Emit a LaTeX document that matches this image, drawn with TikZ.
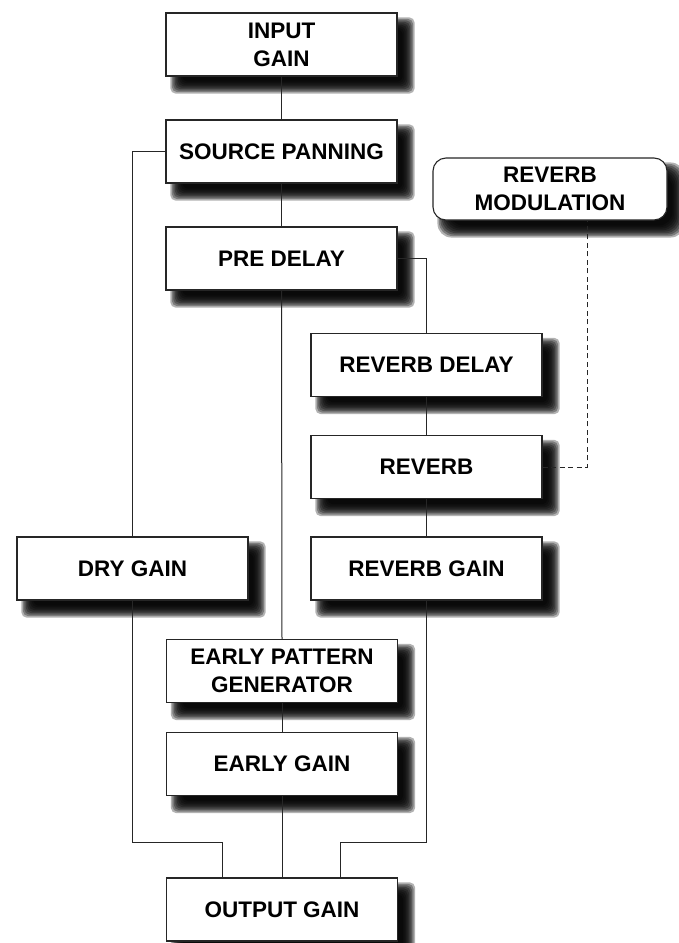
\documentclass[tikz,border=0pt]{standalone}
\usepackage{fontspec}
\setmainfont{Liberation Sans}
\usetikzlibrary{calc}
\pgfdeclarelayer{shadowlayer}
\pgfsetlayers{shadowlayer,main}
\newcommand\dropshadow[2][5pt]{%
  \begin{pgfonlayer}{shadowlayer}
  \foreach \e in {-6,-4.5,-3,-1.5,0,1.5,3,4.5,6}{%
    \fill[black, opacity=0.3, rounded corners=#1]
      ($(#2.north west)+(11-\e,11-\e)$) rectangle ($(#2.south east)+(11+\e,11+\e)$);
  }
  \end{pgfonlayer}}
\begin{document}
\begin{tikzpicture}[x=1pt,y=-1pt,
  box/.style={draw=black!85, line width=1.1pt, fill=white, minimum width=231pt, minimum height=63pt,
    inner sep=0pt, align=center, font=\fontsize{22.5}{28}\selectfont\bfseries},
  rbox/.style={box, rounded corners=13pt, minimum width=234pt, minimum height=62pt},
  conn/.style={draw=black!85, line width=1pt},
  dconn/.style={conn, dash pattern=on 5pt off 3.5pt}]
\useasboundingbox (0,0) rectangle (679,943);
\node[box] (ig) at (281.5,44.5) {INPUT\\GAIN};
\node[box] (sp) at (281.5,151.5) {SOURCE PANNING};
\node[box] (pd) at (281.5,258.5) {PRE DELAY};
\node[rbox] (rm) at (550,189) {REVERB\\MODULATION};
\node[box] (rd) at (426.5,365) {REVERB DELAY};
\node[box] (rv) at (426.5,467) {REVERB};
\node[box] (dg) at (132.5,568.5) {DRY GAIN};
\node[box] (rg) at (426.5,568.5) {REVERB GAIN};
\node[box] (ep) at (282,671) {EARLY PATTERN\\GENERATOR};
\node[box] (eg) at (282,764) {EARLY GAIN};
\node[box] (og) at (282,909.5) {OUTPUT GAIN};
\foreach \n in {ig,sp,pd,rd,rv,dg,rg,ep,eg,og}{\dropshadow{\n}}
\dropshadow[14pt]{rm}
\coordinate (ogl) at ($(og.north)+(-60,0)$);
\coordinate (ogr) at ($(og.north)+(58,0)$);
\coordinate (rmd) at ($(rm.south)+(37,0)$);
\draw[conn] (ig.south) -- (sp.north);
\draw[conn] (sp.west) -| (dg.north);
\draw[conn] (sp.south) -- (pd.north);
\draw[conn] (pd.east) -| (rd.north);
\draw[conn] (pd.south) -- (ep.north);
\draw[conn] (rd.south) -- (rv.north);
\draw[conn] (rv.south) -- (rg.north);
\draw[dconn] (rv.east) -| (rmd);
\draw[conn] (ep.south) -- (eg.north);
\draw[conn] (eg.south) -- (og.north);
\draw[conn] (dg.south) |- ($(ogl)+(0,-35)$) -- (ogl);
\draw[conn] (rg.south) |- ($(ogr)+(0,-35)$) -- (ogr);
\end{tikzpicture}
\end{document}
